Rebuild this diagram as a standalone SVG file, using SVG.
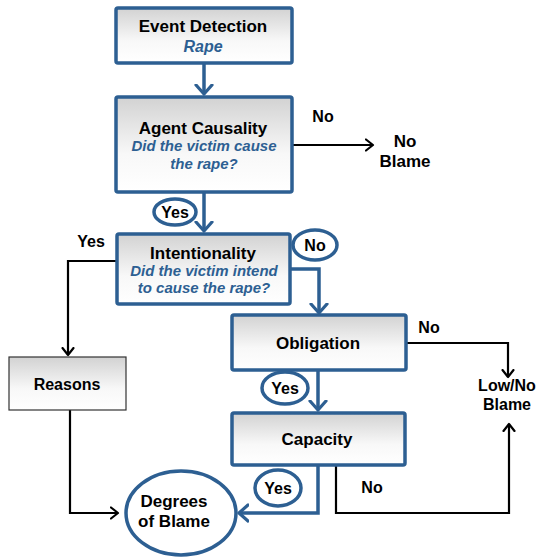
<svg xmlns="http://www.w3.org/2000/svg" width="538" height="557" viewBox="0 0 538 557">
<defs>
<linearGradient id="g" x1="0" y1="0" x2="0" y2="1">
<stop offset="0" stop-color="#d2d2d2"/>
<stop offset="0.6" stop-color="#f8f8f8"/>
<stop offset="1" stop-color="#ffffff"/>
</linearGradient>
<marker id="ab" markerUnits="userSpaceOnUse" markerWidth="20" markerHeight="20" refX="10" refY="10" orient="auto">
<polyline points="1,2 10,10 1,18" fill="none" stroke="#2d5f92" stroke-width="3.2" stroke-linecap="round" stroke-linejoin="round"/>
</marker>
<marker id="ak" markerUnits="userSpaceOnUse" markerWidth="16" markerHeight="16" refX="8" refY="8" orient="auto">
<polyline points="1,2.5 8,8 1,13.5" fill="none" stroke="#000" stroke-width="2.2" stroke-linecap="round" stroke-linejoin="round"/>
</marker>
</defs>
<style>
.box{fill:url(#g);stroke:#2d5f92;stroke-width:3.5}
.gbox{fill:url(#g);stroke:#333;stroke-width:1.2}
.ell{fill:#fff;stroke:#2d5f92;stroke-width:3.5}
.t{font-family:"Liberation Sans",Arial,sans-serif;font-weight:bold;font-size:17px;fill:#000;text-anchor:middle}
.s{font-family:"Liberation Sans",Arial,sans-serif;font-weight:bold;font-style:italic;font-size:15px;fill:#2d5f92;text-anchor:middle}
.bl{fill:none;stroke:#2d5f92;stroke-width:3.5}
.kl{fill:none;stroke:#000;stroke-width:2.2}
</style>
<g id="connectors">
<path class="bl" d="M204,63 V94" marker-end="url(#ab)"/>
<path class="kl" d="M292,145 H373" marker-end="url(#ak)"/>
<path class="bl" d="M204,192 V231" marker-end="url(#ab)"/>
<path class="kl" d="M117,261 H68 V355" marker-end="url(#ak)"/>
<path class="bl" d="M290,269 H319 V313" marker-end="url(#ab)"/>
<path class="kl" d="M406,343 H508 V377" marker-end="url(#ak)"/>
<path class="bl" d="M318,370 V410" marker-end="url(#ab)"/>
<path class="bl" d="M318,465 V513 H239" marker-end="url(#ab)"/>
<path class="kl" d="M336,465 V513 H509 V424" marker-end="url(#ak)"/>
<path class="kl" d="M70,410 V513 H118" marker-end="url(#ak)"/>
</g>
<g id="event-detection">
<rect class="box" x="116" y="8" width="176" height="55" rx="2"/>
<text class="t" x="203" y="32">Event Detection</text>
<text class="s" x="203" y="52" style="font-size:16px">Rape</text>
</g>
<g id="agent-causality">
<rect class="box" x="116" y="97" width="176" height="95" rx="2"/>
<text class="t" x="203" y="134">Agent Causality</text>
<text class="s" x="204" y="151">Did the victim cause</text>
<text class="s" x="204" y="169">the rape?</text>
</g>
<g id="no-label-1"><text class="t" x="323" y="122" style="font-size:16px">No</text></g>
<g id="no-blame">
<text class="t" x="405" y="147">No</text>
<text class="t" x="405" y="167">Blame</text>
</g>
<g id="yes-1">
<ellipse class="ell" cx="175" cy="212" rx="21" ry="13"/>
<text class="t" x="175" y="218" style="font-size:16px">Yes</text>
</g>
<g id="intentionality">
<rect class="box" x="117" y="234" width="173" height="70" rx="2"/>
<text class="t" x="203" y="259">Intentionality</text>
<text class="s" x="204" y="276">Did the victim intend</text>
<text class="s" x="204" y="293">to cause the rape?</text>
</g>
<g id="no-2">
<ellipse class="ell" cx="315" cy="245" rx="22" ry="15"/>
<text class="t" x="315" y="251" style="font-size:16px">No</text>
</g>
<g id="yes-label-left"><text class="t" x="91" y="247" style="font-size:16px">Yes</text></g>
<g id="reasons">
<rect class="gbox" x="9" y="357" width="117" height="53"/>
<text class="t" x="67" y="390" style="font-size:16px">Reasons</text>
</g>
<g id="obligation">
<rect class="box" x="232" y="315" width="174" height="55" rx="2"/>
<text class="t" x="318" y="349">Obligation</text>
</g>
<g id="no-label-3"><text class="t" x="429" y="333" style="font-size:16px">No</text></g>
<g id="low-no-blame">
<text class="t" x="507" y="391" style="font-size:16px">Low/No</text>
<text class="t" x="507" y="410" style="font-size:16px">Blame</text>
</g>
<g id="yes-2">
<ellipse class="ell" cx="285" cy="388" rx="23" ry="16"/>
<text class="t" x="285" y="394" style="font-size:16px">Yes</text>
</g>
<g id="capacity">
<rect class="box" x="232" y="413" width="173" height="52" rx="2"/>
<text class="t" x="317" y="445">Capacity</text>
</g>
<g id="yes-3">
<ellipse class="ell" cx="278" cy="488" rx="23" ry="18"/>
<text class="t" x="278" y="494" style="font-size:16px">Yes</text>
</g>
<g id="no-label-4"><text class="t" x="372" y="493" style="font-size:16px">No</text></g>
<g id="degrees-of-blame">
<ellipse class="ell" cx="181" cy="513" rx="55" ry="42"/>
<text class="t" x="174" y="507">Degrees</text>
<text class="t" x="174" y="527">of Blame</text>
</g>
</svg>
